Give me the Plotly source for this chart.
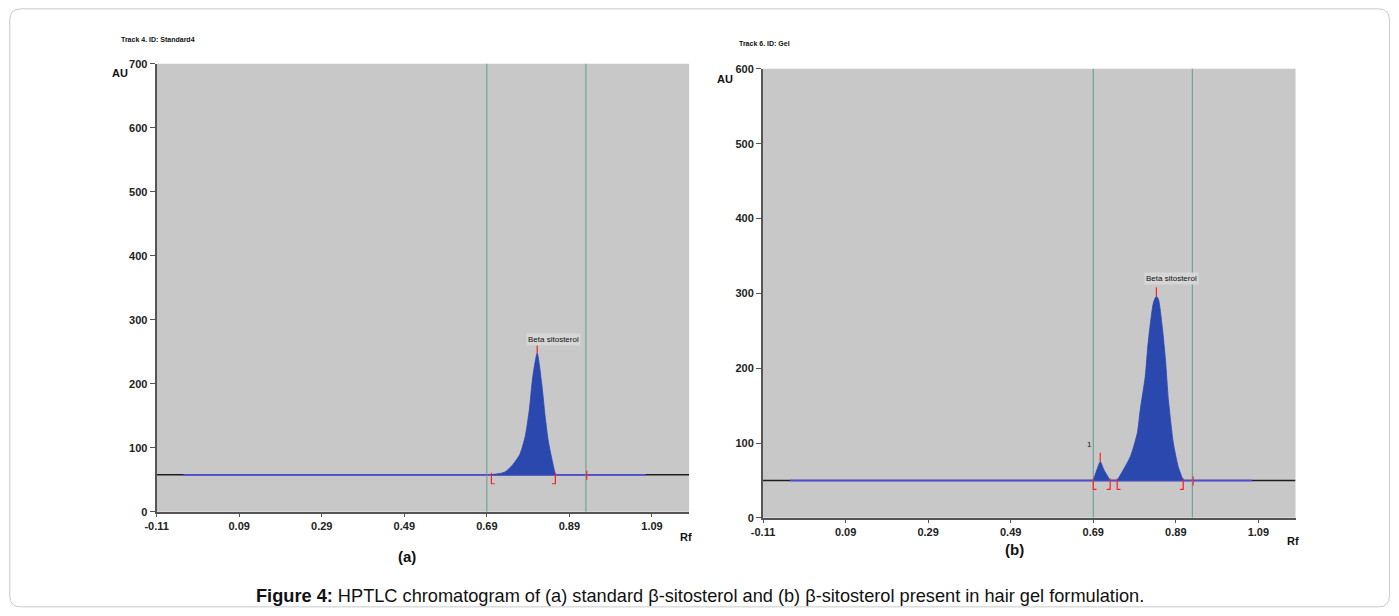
import plotly.graph_objects as go

# ---------------- data ----------------
x_tick_vals = [-0.11, 0.09, 0.29, 0.49, 0.69, 0.89, 1.09]
x_tick_text = ["-0.11", "0.09", "0.29", "0.49", "0.69", "0.89", "1.09"]
y_ticks_a = [0, 100, 200, 300, 400, 500, 600, 700]
y_ticks_b = [0, 100, 200, 300, 400, 500, 600]

# (a) standard beta-sitosterol, track 4
rf_a = [0.701, 0.733, 0.752, 0.770, 0.783, 0.793, 0.801, 0.812, 0.823, 0.831, 0.839, 0.849, 0.856]
au_a = [58, 62, 73, 90, 118, 160, 210, 248, 200, 150, 110, 78, 58]
baseline_a = 58

# (b) hair gel, track 6 : peak 1 and beta sitosterol peak
rf_b1 = [0.690, 0.700, 0.707, 0.716, 0.731]
au_b1 = [50, 66, 75, 64, 50]
rf_b2 = [0.748, 0.780, 0.797, 0.804, 0.816, 0.823, 0.836, 0.843, 0.848, 0.857, 0.865, 0.872, 0.884, 0.896, 0.908]
au_b2 = [50, 82, 114, 145, 189, 234, 288, 296, 292, 256, 211, 158, 100, 68, 50]
baseline_b = 50

window_rf = [0.69, 0.93]
blue_span = [-0.045, 1.075]
x_range = [-0.11, 1.18]

# ---------------- style ----------------
PAGE_OFF = 8
W, H = 1399 - 2 * PAGE_OFF, 616 - 2 * PAGE_OFF
# empirical correction of the photographed page
CX0, CXS = 7.8, 0.995
CY0, CYS = 6.3, 0.98
GREY = "#c8c8c8"
FILL = "#2a48ae"
BLUE = "#4a4ae6"
GREEN = "#5f9d8c"
RED = "#ff2020"
FONT = "Liberation Sans"


def px(v):
    v = v - 3.5 * (1296 - v) / 1287
    p = (v - CX0) / CXS
    return (p - PAGE_OFF) / W


def py(v):
    p = (v - CY0) / CYS
    return 1 - (p - PAGE_OFF) / H


fig = go.Figure()


def add_panel(xa, ya, peaks, baseline, au_per_px):
    fig.add_trace(go.Scatter(x=x_range, y=[baseline, baseline], mode="lines",
                             line=dict(color="#1e1e1e", width=1.5), xaxis=xa, yaxis=ya,
                             hoverinfo="skip", showlegend=False))
    fig.add_trace(go.Scatter(x=blue_span, y=[baseline, baseline], mode="lines",
                             line=dict(color=BLUE, width=1.5), xaxis=xa, yaxis=ya,
                             hoverinfo="skip", showlegend=False))
    for r in window_rf:
        fig.add_trace(go.Scatter(x=[r, r], y=[0, 1000], mode="lines",
                                 line=dict(color=GREEN, width=1), xaxis=xa, yaxis=ya,
                                 hoverinfo="skip", showlegend=False))
    rx, ry = [], []
    down = 9 * au_per_px
    up = 2 * au_per_px
    foot = 0.008
    for rf, au in peaks:
        fig.add_trace(go.Scatter(x=rf, y=au, mode="lines", fill="toself", fillcolor=FILL,
                                 line=dict(color=FILL, width=0.8, shape="spline", smoothing=0.6),
                                 xaxis=xa, yaxis=ya, hoverinfo="skip", showlegend=False))
        s, e = rf[0], rf[-1]
        i_max = au.index(max(au))
        rx += [s + foot, s, s, None, e - foot, e, e, None,
               rf[i_max], rf[i_max], None]
        ry += [baseline - down, baseline - down, baseline + up, None,
               baseline - down, baseline - down, baseline + up, None,
               au[i_max], au[i_max] + 9 * au_per_px, None]
    rx += [window_rf[1] + 0.002, window_rf[1] + 0.002, None]
    ry += [baseline - 5 * au_per_px, baseline + 4 * au_per_px, None]
    fig.add_trace(go.Scatter(x=rx, y=ry, mode="lines", line=dict(color=RED, width=1.2),
                             xaxis=xa, yaxis=ya, hoverinfo="skip", showlegend=False))


add_panel("x", "y", [(rf_a, au_a)], baseline_a, 700 / 448)
add_panel("x2", "y2", [(rf_b1, au_b1), (rf_b2, au_b2)], baseline_b, 600 / 449)

axis_font = dict(family=FONT, size=11, color="#222", weight="bold")
common_x = dict(range=x_range, tickvals=x_tick_vals, ticktext=x_tick_text, showgrid=False,
                zeroline=False, showline=True, linecolor="#555", linewidth=2, ticks="outside",
                ticklen=3, tickcolor="#555", tickfont=axis_font, fixedrange=True)
common_y = dict(showgrid=False, zeroline=False, showline=True, linecolor="#555", linewidth=2,
                ticks="outside", ticklen=5, tickcolor="#555", tickfont=axis_font, fixedrange=True)

fig.update_layout(
    width=W, height=H, margin=dict(l=0, r=0, t=0, b=0),
    paper_bgcolor="white", plot_bgcolor="white",
    showlegend=False,
    xaxis=dict(domain=[px(156), px(689)], anchor="y", **common_x),
    yaxis=dict(domain=[py(512), py(64)], anchor="x", range=[0, 700], tickvals=y_ticks_a, **common_y),
    xaxis2=dict(domain=[px(763), px(1296)], anchor="y2", **common_x),
    yaxis2=dict(domain=[py(518), py(69)], anchor="x2", range=[0, 600], tickvals=y_ticks_b, **common_y),
)

shapes = [
    dict(type="rect", xref="x domain", yref="y domain", x0=0, x1=1, y0=0, y1=1,
         fillcolor=GREY, line=dict(width=0), layer="below"),
    dict(type="rect", xref="x2 domain", yref="y2 domain", x0=0, x1=1, y0=0, y1=1,
         fillcolor=GREY, line=dict(width=0), layer="below"),
    dict(type="path", xref="paper", yref="paper",
         path=f"M {px(20)},{py(9)} L {px(1379)},{py(9)} Q {px(1390)},{py(9)} {px(1390)},{py(20)} "
              f"L {px(1390)},{py(596)} Q {px(1390)},{py(607)} {px(1379)},{py(607)} "
              f"L {px(20)},{py(607)} Q {px(9)},{py(607)} {px(9)},{py(596)} "
              f"L {px(9)},{py(20)} Q {px(9)},{py(9)} {px(20)},{py(9)} Z",
         line=dict(color="#c9c9c9", width=1), fillcolor="rgba(0,0,0,0)"),
]
fig.update_layout(shapes=shapes)

ann = []


def t(text, x, y, size, bold=True, xanchor="center", xref="paper", yref="paper", **kw):
    ann.append(dict(text=text, x=x, y=y, xref=xref, yref=yref, showarrow=False,
                    xanchor=xanchor, yanchor="middle",
                    font=dict(family=FONT, size=size, color="#111", weight="bold" if bold else "normal"),
                    **kw))


t("Track 4. ID: Standard4", px(118), py(40), 7, xanchor="left")
t("Track 6. ID: Gel", px(737), py(44), 7, xanchor="left")
t("AU", px(119), py(73), 11)
t("AU", px(725), py(79), 11)
t("Rf", px(686), py(537), 11)
t("Rf", px(1293), py(541), 11)
t("(a)", px(407), py(557), 15)
t("(b)", px(1015), py(550), 15)
t("Beta sitosterol", 0.851, 269, 8, bold=False, xref="x", yref="y", bgcolor="#d6d6d6")
t("Beta sitosterol", 0.879, 320, 8, bold=False, xref="x2", yref="y2", bgcolor="#d6d6d6")
t("1", 0.681, 98, 8, bold=False, xref="x2", yref="y2")
t("<b>Figure 4:</b> HPTLC chromatogram of (a) standard β-sitosterol and (b) β-sitosterol present in hair gel formulation.",
  px(700), py(596), 18.2, bold=False)
fig.update_layout(annotations=ann)

fig.write_html("out.html", config={"displayModeBar": False})
